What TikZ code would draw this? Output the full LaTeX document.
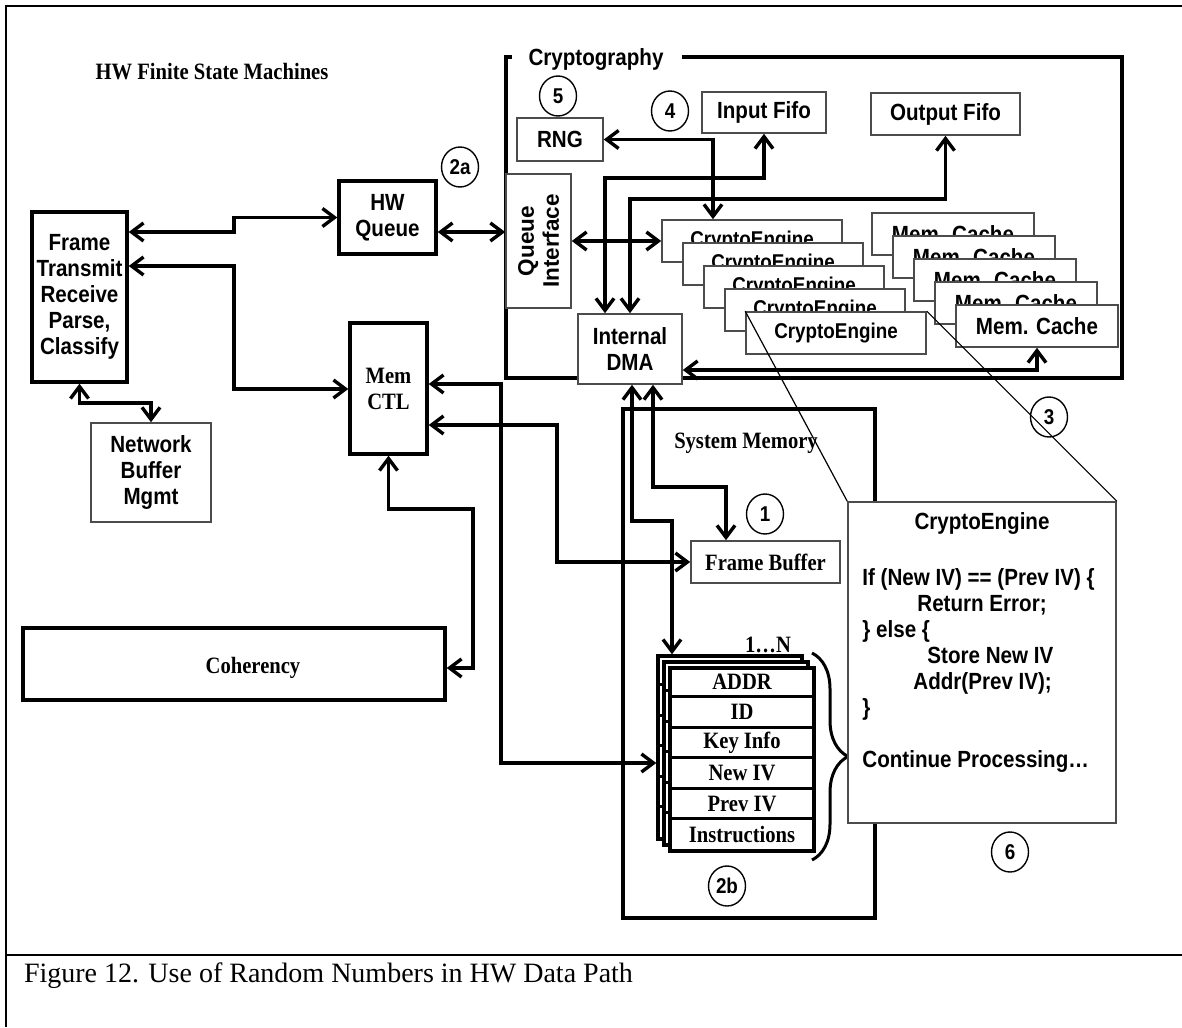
\documentclass[tikz,border=0pt]{standalone}
\usepackage{fontspec}
\setmainfont{Liberation Serif}
\newfontfamily\narrowsans[FakeStretch=0.88]{Liberation Sans}
\newfontfamily\narrowserif[FakeStretch=0.88]{Liberation Serif}
\newfontfamily\plainsans{Liberation Sans}
\usepackage{tikz}
\usetikzlibrary{arrows.meta,calc,shapes.geometric,decorations.pathreplacing}

\begin{document}
\begin{tikzpicture}[x=0.5pt,y=-0.5pt,
  sansbf/.style={font=\narrowsans\bfseries\fontsize{11.7}{13}\selectfont},
  serifbf/.style={font=\narrowserif\bfseries\fontsize{11.7}{13}\selectfont},
  heavybox/.style={draw,line width=1.7pt,fill=white,inner sep=0pt,align=center},
  lightbox/.style={draw=black!70,line width=0.8pt,fill=white,inner sep=0pt,align=center},
  wire/.style={line width=1.7pt,
    {Straight Barb[length=6pt,width=9pt]}-{Straight Barb[length=6pt,width=9pt]}},
  marker/.style={draw,ellipse,line width=0.7pt,minimum width=18.5pt,minimum height=20pt,
    inner sep=0pt,font=\narrowsans\bfseries\fontsize{10.7}{12}\selectfont},
  leader/.style={line width=0.6pt}]
  \useasboundingbox (0,0) rectangle (1182,1027);
  \draw[line width=1.1pt] (6,1027) -- (6,6) -- (1182,6);
  \draw[line width=1.1pt] (6,955) -- (1182,955);
  \node[anchor=base west,font=\fontsize{14}{17}\selectfont] (caption) at (17,982)
    {Figure 12. Use of Random Numbers in HW Data Path};
  \node[serifbf] (fsmtitle) at (212,72) {HW Finite State Machines};
  \draw[line width=1.7pt] (512,57) -- (506,57) -- (506,378) -- (1122,378) -- (1122,57) -- (682,57);
  \node[sansbf] (cryptotitle) at (596,60) {Cryptography};
  \draw[line width=1.7pt] (623,409) rectangle (875,918);
  \node[serifbf] (sysmemtitle) at (746,443) {System Memory};

  \node[heavybox,sansbf,minimum width=47.5pt,minimum height=85pt] (parser) at (79.5,297)
    {Frame\\Transmit\\Receive\\Parse,\\Classify};
  \node[heavybox,sansbf,minimum width=48.5pt,minimum height=36.5pt] (hwqueue) at (387.5,217.5) {HW\\Queue};
  \node[lightbox,sansbf,minimum width=60pt,minimum height=49.5pt] (netbuf) at (151,472.5) {Network\\Buffer\\Mgmt};
  \node[heavybox,serifbf,minimum width=38.5pt,minimum height=65.5pt] (memctl) at (388.5,388.5) {Mem\\CTL};
  \node[heavybox,minimum width=211pt,minimum height=36pt] (coherency) at (234,664) {};
  \node[serifbf] (coherencytext) at ([xshift=9.5pt,yshift=-2pt]coherency.center) {Coherency};

  \node[lightbox,sansbf,minimum width=43pt,minimum height=21.5pt] (rng) at (560,139.5) {RNG};
  \node[lightbox,sansbf,minimum width=62pt,minimum height=20.5pt] (infifo) at (764,112.5) {Input Fifo};
  \node[lightbox,sansbf,minimum width=74.5pt,minimum height=21pt] (outfifo) at (945.5,114) {Output Fifo};
  \node[lightbox,minimum width=32.5pt,minimum height=67pt] (queueif) at (538.5,241) {};
  \node[rotate=90,align=center,font=\plainsans\bfseries\fontsize{11.25}{12.5}\selectfont] (queueiftext)
    at (queueif.center) {Queue\\Interface};
  \node[lightbox,sansbf,minimum width=52pt,minimum height=35pt] (dma) at (630,349) {Internal\\DMA};
  \foreach \layer in {0,...,4}
    \node[lightbox,font=\narrowsans\bfseries\fontsize{10.7}{12}\selectfont,minimum width=90pt,minimum height=21pt]
      (engine\layer) at ({752+21*\layer},{241+23*\layer}) {CryptoEngine};
  \foreach \layer in {0,...,4}
    \node[lightbox,sansbf,minimum width=81pt,minimum height=21pt]
      (cache\layer) at ({953+21*\layer},{234+23*\layer}) {Mem. Cache};

  \node[lightbox,serifbf,minimum width=74.5pt,minimum height=21pt] (framebuf) at (765.5,562) {Frame Buffer};
  \foreach \layer in {0,1,2} {
    \node[heavybox,minimum width=72pt,minimum height=91.5pt] (record\layer) at ({730+6*\layer},{747.5+6*\layer}) {};
    \foreach \row in {1,...,5}
      \draw[line width=1.5pt] ($(record\layer.north west)+(0,30.5*\row)$) -- ++(144,0);
  }
  \foreach \field [count=\row] in {ADDR,ID,Key Info,New IV,Prev IV,Instructions}
    \node[serifbf] (field\row) at ($(record2.north)+(0,30.5*\row-15.25)$) {\field};
  \node[serifbf] (recordcount) at (768,645) {1…N};
  \draw[line width=1.5pt,decorate,decoration={brace,amplitude=18pt}] (812,653) -- (812,860);

  \node[lightbox,minimum width=134pt,minimum height=160.5pt] (codebox) at (982,662.5) {};
  \node[sansbf] (codehead) at (982,523) {CryptoEngine};
  \node[sansbf,align=left,anchor=north west,inner sep=0pt] (codebody) at (862,568)
    {If (New IV) == (Prev IV) \{\\\hspace*{27.5pt}Return Error;\\\} else \{\\
     \hspace*{32.5pt}Store New IV\\\hspace*{25.5pt}Addr(Prev IV);\\\}\\[13pt]Continue Processing…};
  \draw[leader] (engine4.north west) -- (codebox.north west);
  \draw[leader] (engine4.north east) -- (codebox.north east);

  \node[marker] (mark5) at (558,96) {5};
  \node[marker] (mark4) at (670,111) {4};
  \node[marker] (mark2a) at (460,167) {2a};
  \node[marker] (mark3) at (1049,417) {3};
  \node[marker] (mark1) at (765,514) {1};
  \node[marker] (mark6) at (1010,852) {6};
  \node[marker] (mark2b) at (727,886) {2b};

  \draw[wire] (parser.east |- 0,232) -- (234,232) |- (hwqueue.west);
  \draw[wire] (hwqueue.east |- 0,232) -- (queueif.west |- 0,232);
  \draw[wire] (parser.east |- 0,266) -| (234,389) -- (memctl.west |- 0,389);
  \draw[wire] (parser.south) |- (netbuf.north |- 0,403) -- (netbuf.north);
  \draw[wire] (memctl.south) |- (473,509) |- (coherency.east |- 0,668);
  \draw[wire] (memctl.east |- 0,384) -| (501,763) -- (record0.west |- 0,763);
  \draw[wire] (memctl.east |- 0,425) -| (557,562) -- (framebuf.west);
  \draw[wire] (dma.south -| 653,0) |- (726,487) -- (framebuf.north -| 726,0);
  \draw[wire] (dma.south -| 632,0) |- (672,521) -- (record0.north -| 672,0);
  \draw[wire] (dma.north -| 605,0) |- (764,178) -- (infifo.south);
  \draw[wire] (dma.north) |- (945.5,199) -- (outfifo.south);
  \draw[wire] (rng.east) -| (engine0.north -| 713,0);
  \draw[wire] (queueif.east) -- (engine0.west);
  \draw[wire] (dma.east |- 0,370) -| (cache4.south);
\end{tikzpicture}
\end{document}
